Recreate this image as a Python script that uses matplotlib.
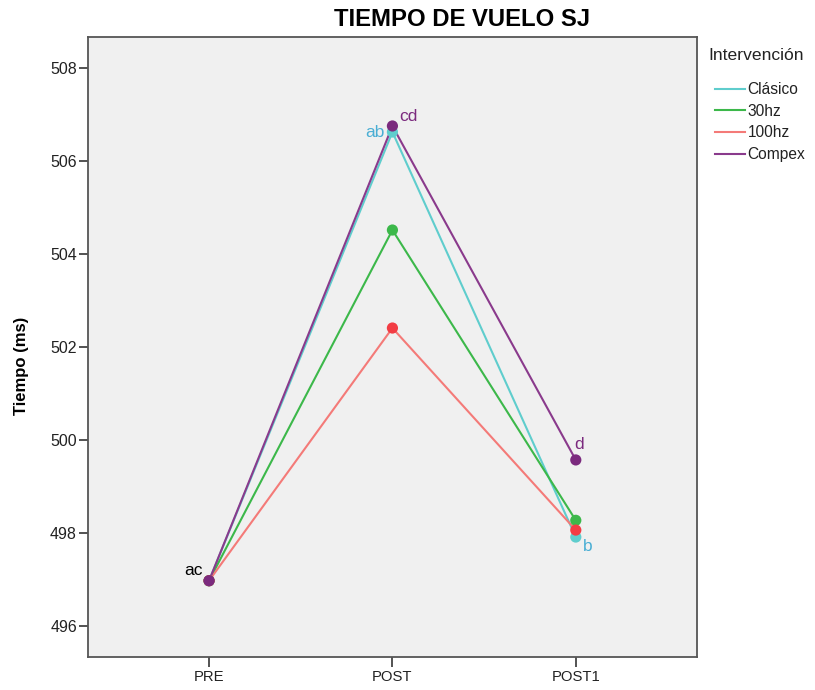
import matplotlib
matplotlib.use("Agg")
from matplotlib import pyplot as plt

plt.rcParams['font.family'] = ['Liberation Sans', 'DejaVu Sans']

# datos
momentos = ["PRE", "POST", "POST1"]
clasico = [496.97, 506.63, 497.91]
hz30 = [496.97, 504.52, 498.27]
hz100 = [496.97, 502.41, 498.06]
compex = [496.97, 506.76, 499.57]
grupos = ["Clásico", "30hz", "100hz", "Compex"]
series = [clasico, hz30, hz100, compex]
lineas = ["#5fcdcd", "#3cb84a", "#f47a78", "#8a3a8c"]
puntos = ["#5fcdcd", "#3cb84a", "#f23c44", "#7b2a7e"]

fig = plt.figure(figsize=(8.15, 6.9), dpi=100)
ax = fig.add_axes([0.108, 0.048, 0.747, 0.898])
ax.set_facecolor("#f0f0f0")

x = list(range(len(momentos)))
handles = []
for nombre, vals, lc, pc in zip(grupos, series, lineas, puntos):
    h, = ax.plot(x, vals, color=lc, lw=1.5, label=nombre)
    ax.scatter(x, vals, s=65, color=pc, zorder=3, edgecolors="none")
    handles.append(h)

# letras de significancia
ax.text(-0.033, 497.18, "ac", color="black", fontsize=12.5, ha="right", va="center")
ax.text(0.957, 506.62, "ab", color="#4aaed4", fontsize=12.5, ha="right", va="center")
ax.text(1.038, 506.97, "cd", color="#7b2a7e", fontsize=12.5, ha="left", va="center")
ax.text(1.989, 499.91, "d", color="#7b2a7e", fontsize=12.5, ha="left", va="center")
ax.text(2.038, 497.70, "b", color="#4aaed4", fontsize=12.5, ha="left", va="center")

ax.set_xlim(-0.66, 2.66)
ax.set_ylim(495.33, 508.67)
ax.set_xticks(x)
ax.set_xticklabels(momentos)
ax.set_yticks(range(496, 509, 2))
ax.tick_params(axis="y", direction="out", length=6.5, width=1.3, color="#444444",
               labelsize=11.5, labelcolor="#222222", pad=1.5)
ax.tick_params(axis="x", direction="out", length=7, width=1.3, color="#444444",
               labelsize=10.7, labelcolor="#222222", pad=2.5)
ax.tick_params(top=False, right=False)
for s in ax.spines.values():
    s.set_color("#555555")
    s.set_linewidth(1.3)

fig.text(22 / 815, 1 - 366 / 690, "Tiempo (ms)", fontsize=12, fontweight="bold",
         rotation=90, ha="center", va="center")
fig.text(462 / 815, 1 - 19 / 690, "TIEMPO DE VUELO SJ", fontsize=17.2,
         fontweight="bold", ha="center", va="center")

# leyenda
fig.text(708 / 815, 1 - 55 / 690, "Intervención", fontsize=12.6, ha="left", va="center",
         color="#222222")
leg = fig.legend(handles=handles, loc="upper left", bbox_to_anchor=(715 / 815, 1 - 82 / 690),
                 frameon=False, fontsize=11.2, handlelength=1.9, handletextpad=0.2,
                 labelspacing=0.43, borderpad=0, borderaxespad=0)
for t in leg.get_texts():
    t.set_color("#222222")

fig.savefig("out.png", dpi=100)
